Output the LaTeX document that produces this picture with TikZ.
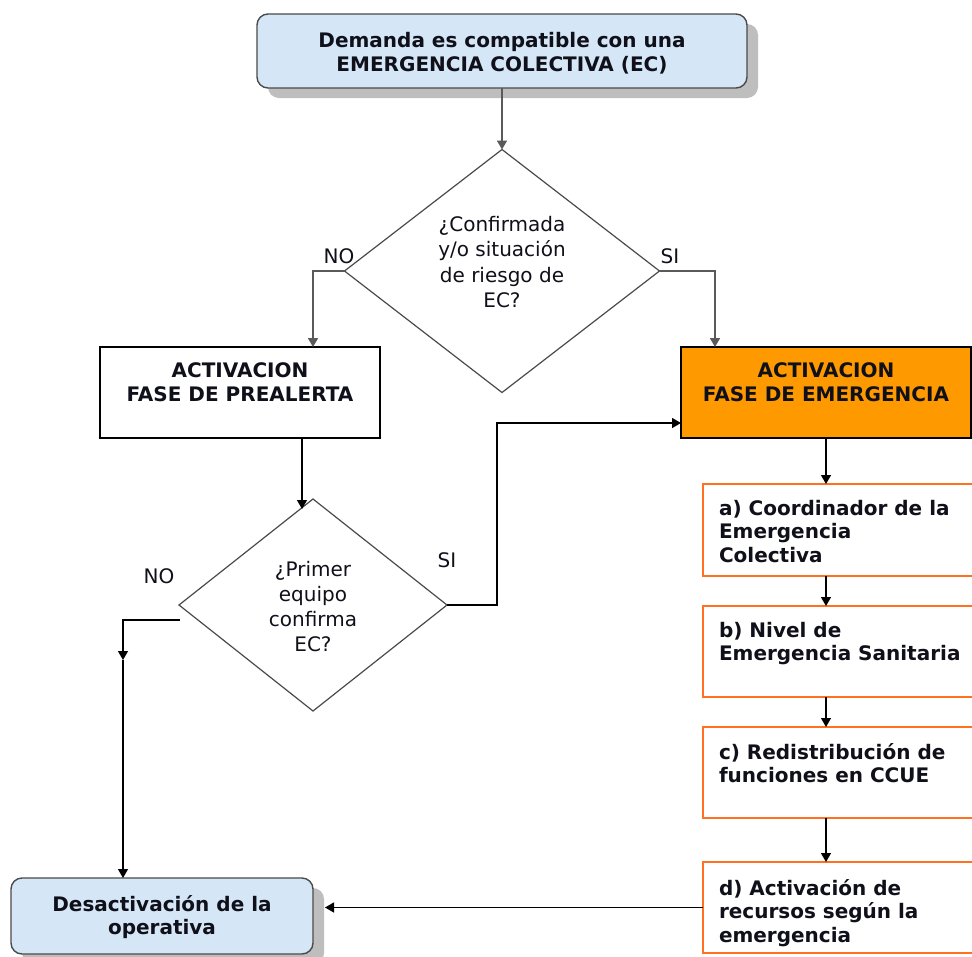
\documentclass[tikz,border=0pt]{standalone}
\usepackage{fontspec}
\setmainfont{DejaVu Sans}
\usetikzlibrary{shapes.geometric,arrows.meta,shadows,calc}
\definecolor{lblue}{HTML}{D5E7F7}
\definecolor{orfill}{HTML}{FF9900}
\definecolor{orline}{HTML}{FF7020}
\definecolor{shgray}{HTML}{BEBEBE}
\definecolor{dgray}{HTML}{4A4A4A}
\definecolor{lgray}{HTML}{5A5A5A}
\definecolor{txt}{HTML}{10101A}
\begin{document}
\begin{tikzpicture}[x=1pt,y=-1pt,
  font=\fontsize{20}{24}\selectfont, text=txt,
  every node/.style={inner sep=0pt, outer sep=0pt},
  conn/.style={draw=black, line width=1.3pt, -{Triangle[length=9pt,width=10pt]}},
  gconn/.style={conn, draw=lgray, line width=1.7pt},
  bluebox/.style={rectangle, rounded corners=11pt, draw=dgray, line width=1.4pt, fill=lblue,
    drop shadow={shadow xshift=11pt, shadow yshift=-10pt, fill=shgray, opacity=1}},
  phasebox/.style={rectangle, draw=black, line width=1.2pt},
  stepbox/.style={rectangle, draw=orline, line width=2.4pt, fill=white},
  decision/.style={diamond, draw=dgray, line width=1.2pt, fill=white},
  dtext/.style={align=center, font=\fontsize{20}{25.5}\selectfont},
  boldtext/.style={align=center, font=\fontsize{20}{23.5}\selectfont\bfseries},
  steptext/.style={align=left, anchor=north west, font=\fontsize{20}{23.5}\selectfont\bfseries},
  lab/.style={font=\fontsize{20}{24}\selectfont},
]
\useasboundingbox (0,0) rectangle (972,956);
\fill[white] (0,0) rectangle (972,956);

% boxes
\node[bluebox, minimum width=490pt, minimum height=74pt] (top) at (502,51) {};
\node[boldtext, font=\fontsize{20}{24.5}\selectfont\bfseries] (topt) at (502,53)
  {Demanda es compatible con una\\EMERGENCIA COLECTIVA (EC)};
\node[decision, minimum width=315pt, minimum height=243pt] (d1) at (502,271) {};
\node[dtext] (d1t) at (502,262) {¿Confirmada\\y/o situación\\de riesgo de\\EC?};
\node[phasebox, fill=white, minimum width=280pt, minimum height=91pt] (pre) at (240,392.5) {};
\node[boldtext, anchor=north] (pret) at ([yshift=-16pt]pre.north) {ACTIVACION\\FASE DE PREALERTA};
\node[phasebox, fill=orfill, minimum width=290pt, minimum height=91pt] (eme) at (826,392.5) {};
\node[boldtext, anchor=north] (emet) at ([yshift=-16pt]eme.north) {ACTIVACION\\FASE DE EMERGENCIA};
\node[decision, minimum width=268pt, minimum height=212pt] (d2) at (313,605) {};
\node[dtext, font=\fontsize{20}{25}\selectfont] (d2t) at (313,607) {¿Primer\\equipo\\confirma\\EC?};

\node[stepbox, minimum width=282pt, minimum height=92pt] (sa) at (844,530) {};
\node[steptext] (sat) at ([xshift=16pt,yshift=-16pt]sa.north west) {a) Coordinador de la\\Emergencia\\Colectiva};
\node[stepbox, minimum width=282pt, minimum height=91pt] (sb) at (844,651.5) {};
\node[steptext] (sbt) at ([xshift=16pt,yshift=-16pt]sb.north west) {b) Nivel de\\Emergencia Sanitaria};
\node[stepbox, minimum width=282pt, minimum height=91pt] (sc) at (844,772.5) {};
\node[steptext] (sct) at ([xshift=16pt,yshift=-16pt]sc.north west) {c) Redistribución de\\funciones en CCUE};
\node[stepbox, minimum width=282pt, minimum height=91pt] (sd) at (844,907.5) {};
\node[steptext] (sdt) at ([xshift=16pt,yshift=-17pt]sd.north west) {d) Activación de\\recursos según la\\emergencia};

\node[bluebox, minimum width=302pt, minimum height=76pt] (des) at (162,916) {};
\node[boldtext] (dest) at (162,917) {Desactivación de la\\operativa};

% labels
\node[lab] (no1) at (339,256) {NO};
\node[lab] (si1) at (670,256) {SI};
\node[lab] (si2) at (447,560) {SI};
\node[lab] (no2) at (159,576) {NO};

% connectors
\draw[gconn] (top.south) -- (d1.north);
\draw[gconn] (d1.west) -| ([xshift=73pt]pre.north);
\draw[gconn] (d1.east) -| ([xshift=-111pt]eme.north);
\coordinate (d2in) at (302,509);
\draw[conn] ([xshift=62pt]pre.south) -- (d2in);
\draw[conn] (d2.east) -- ++(50,0) |- ([yshift=-30.5pt]eme.west);
\coordinate (noS) at (180,620);
\coordinate (noM) at (123,660);
\draw[conn] (noS) -| (noM);
\draw[conn] (noM) -- (noM |- des.north);
\draw[conn] (eme.south) -- (eme.south |- sa.north);
\draw[conn] (sa.south -| eme.south) -- (sb.north -| eme.south);
\draw[conn] (sb.south -| eme.south) -- (sc.north -| eme.south);
\draw[conn] (sc.south -| eme.south) -- (sd.north -| eme.south);
\draw[conn] (sd.west) -- ([xshift=12pt]des.east |- sd.west);
\end{tikzpicture}
\end{document}
